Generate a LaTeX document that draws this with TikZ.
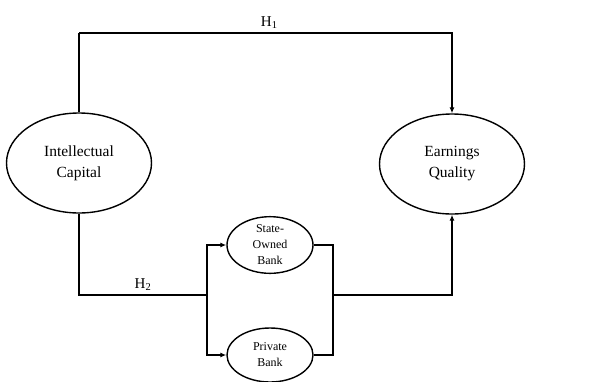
\documentclass[tikz,border=0pt]{standalone}
\usepackage{fontspec}
\setmainfont{Liberation Serif}
\usetikzlibrary{shapes.geometric, arrows.meta}

\begin{document}
\begin{tikzpicture}[x = 1pt, y = 1pt, line width = 1.4pt,
    big/.style = {draw, ellipse, minimum width = 145pt, minimum height = 100pt, inner sep = 0pt, align = center, font = \fontsize{15.5}{21}\selectfont},
    small/.style = {draw, ellipse, minimum width = 86pt, minimum height = 54pt, inner sep = 0pt, align = center, font = \fontsize{12}{16}\selectfont},
    tip/.style = {-{Latex[length = 6pt, width = 5pt]}},
    hyp/.style = {font = \fontsize{15}{18}\selectfont}]
    \useasboundingbox (0, 0) rectangle (595, -381);

    \node[big] (ic) at (79, -163) {Intellectual\\Capital};
    \node[big] (eq) at (452, -164) {Earnings\\Quality};
    \node[small] (sob) at (270, -245) {State-\\Owned\\Bank};
    \node[small] (pb) at (270, -355) {Private\\Bank};

    \coordinate (top) at (79, -33);
    \coordinate (split) at (207, -295);
    \coordinate (merge) at (333, -295);

    \draw (ic.north) -- (top);
    \draw[tip] (top) -| node[pos = 0.255, above, hyp] {H\textsubscript{1}} (eq.north);
    \draw (ic.south) |- node[pos = 0.75, above, hyp] {H\textsubscript{2}} (split);
    \draw[tip] (split) |- (sob.west);
    \draw[tip] (split) |- (pb.west);
    \draw (sob.east) -| (merge);
    \draw (pb.east) -| (merge);
    \draw[tip] (merge) -| (eq.south);
  \end{tikzpicture}
\end{document}
